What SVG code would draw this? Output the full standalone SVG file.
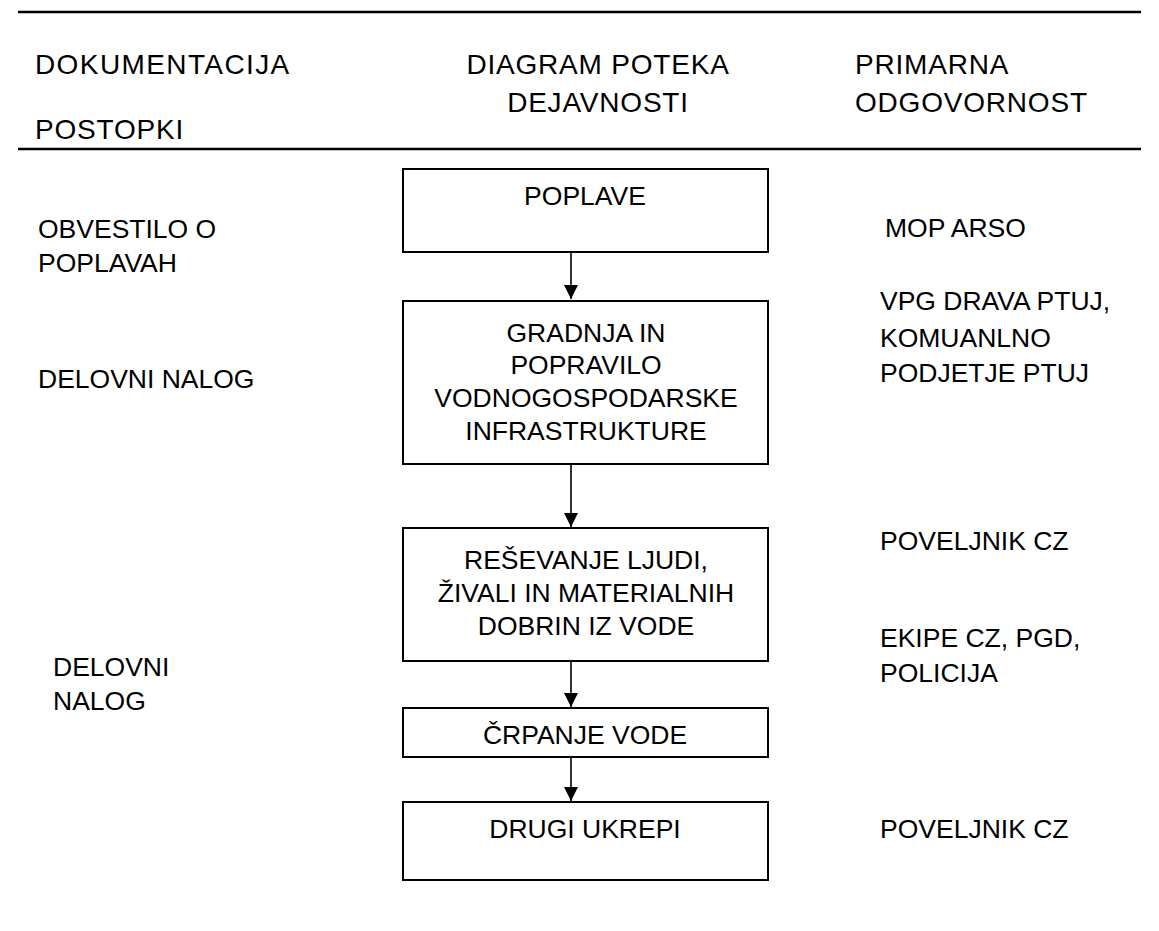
<svg xmlns="http://www.w3.org/2000/svg" width="1159" height="931" viewBox="0 0 1159 931">
<style>
.t{font-family:"Liberation Sans",Arial,sans-serif;font-size:26.5px;fill:#000}
.h{font-family:"Liberation Sans",Arial,sans-serif;font-size:28px;letter-spacing:0.8px;fill:#000}
.c{text-anchor:middle}
.box{fill:#fff;stroke:#000;stroke-width:2}
.rule{stroke:#000;stroke-width:2.5}
.conn{stroke:#000;stroke-width:1.6;fill:none}
</style>
<defs>
<marker id="ah" markerUnits="userSpaceOnUse" markerWidth="14" markerHeight="14" refX="14" refY="7" orient="auto">
<path d="M0,0 L14,7 L0,14 z" fill="#000"/>
</marker>
</defs>
<rect width="1159" height="931" fill="#fff"/>
<g id="header">
<line class="rule" x1="18" y1="12" x2="1141" y2="12"/>
<line class="rule" x1="18" y1="149" x2="1141" y2="149"/>
<text class="h" x="35" y="74" style="letter-spacing:1.4px">DOKUMENTACIJA</text>
<text class="h" x="35" y="138.5">POSTOPKI</text>
<text class="h c" x="598" y="74">DIAGRAM POTEKA</text>
<text class="h c" x="598" y="112">DEJAVNOSTI</text>
<text class="h" x="855" y="74">PRIMARNA</text>
<text class="h" x="855" y="112">ODGOVORNOST</text>
</g>
<g id="connectors">
<line class="conn" x1="571" y1="252" x2="571" y2="299" marker-end="url(#ah)"/>
<line class="conn" x1="571" y1="464" x2="571" y2="527" marker-end="url(#ah)"/>
<line class="conn" x1="571" y1="661" x2="571" y2="707" marker-end="url(#ah)"/>
<line class="conn" x1="571" y1="757" x2="571" y2="801" marker-end="url(#ah)"/>
</g>
<g id="n1">
<rect class="box" x="403" y="169" width="365" height="83"/>
<text class="t c" x="585" y="205">POPLAVE</text>
</g>
<g id="n2">
<rect class="box" x="403" y="301" width="365" height="163"/>
<text class="t c" x="586" y="341.5">GRADNJA IN</text>
<text class="t c" x="586" y="373.5">POPRAVILO</text>
<text class="t c" x="586" y="406.5">VODNOGOSPODARSKE</text>
<text class="t c" x="586" y="440">INFRASTRUKTURE</text>
</g>
<g id="n3">
<rect class="box" x="403" y="528" width="365" height="133"/>
<text class="t c" x="586" y="568.5">REŠEVANJE LJUDI,</text>
<text class="t c" x="586" y="601.5">ŽIVALI IN MATERIALNIH</text>
<text class="t c" x="586" y="635">DOBRIN IZ VODE</text>
</g>
<g id="n4">
<rect class="box" x="403" y="708" width="365" height="49"/>
<text class="t c" x="585" y="744">ČRPANJE VODE</text>
</g>
<g id="n5">
<rect class="box" x="403" y="802" width="365" height="78"/>
<text class="t c" x="585" y="838">DRUGI UKREPI</text>
</g>
<g id="documents">
<text class="t" x="38" y="238">OBVESTILO O</text>
<text class="t" x="38" y="271.5">POPLAVAH</text>
<text class="t" x="38" y="388">DELOVNI NALOG</text>
<text class="t" x="53" y="675.5">DELOVNI</text>
<text class="t" x="53" y="710">NALOG</text>
</g>
<g id="responsibility">
<text class="t" x="885" y="236.5">MOP ARSO</text>
<text class="t" x="880" y="310">VPG DRAVA PTUJ,</text>
<text class="t" x="880" y="346.5">KOMUANLNO</text>
<text class="t" x="880" y="381.5">PODJETJE PTUJ</text>
<text class="t" x="880" y="550">POVELJNIK CZ</text>
<text class="t" x="880" y="646.5">EKIPE CZ, PGD,</text>
<text class="t" x="880" y="681.5">POLICIJA</text>
<text class="t" x="880" y="838">POVELJNIK CZ</text>
</g>
</svg>
